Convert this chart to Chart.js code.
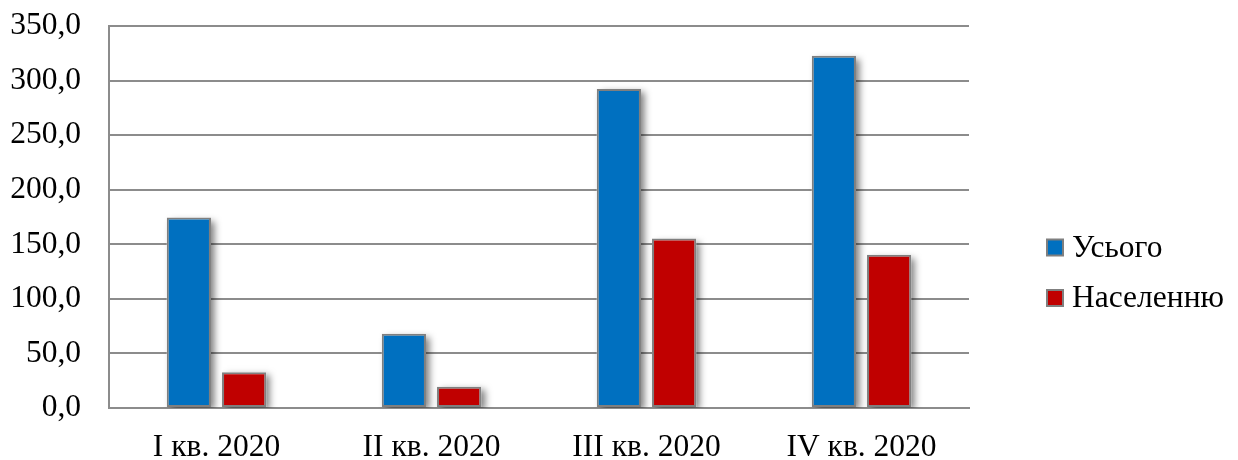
<!DOCTYPE html>
<html>
<head>
<meta charset="utf-8">
<script src="https://cdn.jsdelivr.net/npm/chart.js@4/dist/chart.umd.min.js"></script>
<style>
  html, body { margin: 0; padding: 0; background: #ffffff; }
  #wrap { width: 1238px; height: 460px; position: relative; }
</style>
</head>
<body>
<div id="wrap"><canvas id="chart"></canvas></div>
<script>
// Quarters of 2020
const categories = ['I кв. 2020', 'II кв. 2020', 'III кв. 2020', 'IV кв. 2020'];
// Series values
const totalValues = [174.5, 68.1, 292.2, 322.7];
const householdValues = [32.8, 19.4, 155.2, 140.5];
const seriesNames = ['Усього', 'Населенню'];
// Value axis
const yMin = 0;
const yMax = 350;
const yStep = 50;

const FONT = 'Liberation Serif, "Times New Roman", serif';
const FONT_SIZE = 31.5;
const GRID = '#8c8c8c';

// Soft drop shadow behind each bar, taken from the bar elements' geometry
const barShadow = {
  id: 'barShadow',
  beforeDatasetsDraw(chart) {
    const c = chart.ctx;
    const area = chart.chartArea;
    c.save();
    c.beginPath();
    c.rect(area.left, area.top, area.right - area.left, area.bottom - area.top);
    c.clip();
    c.shadowColor = 'rgba(0,0,0,0.5)';
    c.shadowBlur = 7;
    c.shadowOffsetX = 4;
    c.shadowOffsetY = 3;
    c.fillStyle = '#ffffff';
    chart.data.datasets.forEach((ds, i) => {
      chart.getDatasetMeta(i).data.forEach((bar) => {
        const p = bar.getProps(['x', 'y', 'base', 'width'], true);
        const top = Math.min(p.y, p.base);
        c.fillRect(p.x - p.width / 2, top, p.width, Math.abs(p.base - p.y));
      });
    });
    c.restore();
  }
};

// Legend to the right of the plot
const sideLegend = {
  id: 'sideLegend',
  afterDraw(chart) {
    const c = chart.ctx;
    const x = chart.chartArea.right + 78;
    const y0 = 247.5;
    const gap = 50.5;
    c.save();
    c.font = FONT_SIZE + 'px ' + FONT;
    c.textBaseline = 'middle';
    c.textAlign = 'left';
    chart.data.datasets.forEach((ds, i) => {
      const y = y0 + i * gap;
      c.fillStyle = ds.backgroundColor;
      c.fillRect(x, y - 8, 16, 16);
      c.strokeStyle = ds.borderColor;
      c.lineWidth = 2;
      c.strokeRect(x, y - 8, 16, 16);
      c.fillStyle = '#000000';
      c.fillText(ds.label, x + 25, y + 1);
    });
    c.restore();
  }
};

new Chart(document.getElementById('chart'), {
  type: 'bar',
  data: {
    labels: categories,
    datasets: [
      {
        label: seriesNames[0],
        data: totalValues,
        backgroundColor: '#0070C0',
        borderColor: '#7f7f7f',
        borderWidth: 2,
        borderSkipped: false,
        categoryPercentage: 0.514,
        barPercentage: 0.8
      },
      {
        label: seriesNames[1],
        data: householdValues,
        backgroundColor: '#C00000',
        borderColor: '#7f7f7f',
        borderWidth: 2,
        borderSkipped: false,
        categoryPercentage: 0.514,
        barPercentage: 0.8
      }
    ]
  },
  options: {
    responsive: true,
    maintainAspectRatio: false,
    animation: false,
    layout: { padding: { top: 26, right: 269, left: 0, bottom: 0 } },
    plugins: {
      legend: { display: false },
      tooltip: { enabled: false }
    },
    scales: {
      x: {
        grid: { display: false, drawTicks: false },
        border: { display: true, color: GRID, width: 2 },
        ticks: {
          color: '#000000',
          font: { family: FONT, size: FONT_SIZE },
          padding: 21,
          maxRotation: 0
        },
        afterFit(scale) { scale.height = 52; }
      },
      y: {
        min: yMin,
        max: yMax,
        grid: { color: GRID, lineWidth: 2, drawTicks: false },
        border: { display: true, color: GRID, width: 2 },
        ticks: {
          stepSize: yStep,
          color: '#000000',
          font: { family: FONT, size: FONT_SIZE },
          padding: 28,
          callback: (v) => v.toFixed(1).replace('.', ',')
        },
        afterFit(scale) {
          scale.width = 109;
          scale.paddingTop = 0;
          scale.paddingBottom = 0;
        }
      }
    }
  },
  plugins: [barShadow, sideLegend]
});
</script>
</body>
</html>
